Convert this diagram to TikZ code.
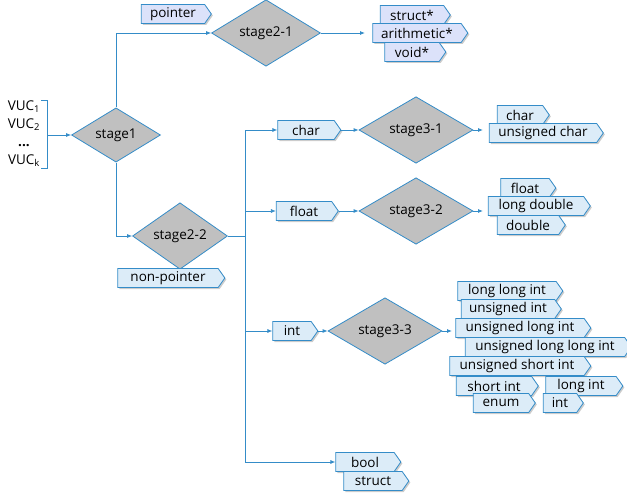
\documentclass[tikz,border=0pt]{standalone}
\usepackage{fontspec}
\setmainfont{Open Sans}
\usetikzlibrary{shapes.geometric,shapes.symbols,arrows.meta,positioning,shadows}
\definecolor{edge}{RGB}{52,140,200}
\definecolor{tagblue}{RGB}{220,236,248}
\definecolor{taglav}{RGB}{220,226,250}
\definecolor{decgray}{RGB}{192,192,192}

\tikzset{
  line/.style={draw=edge, line width=0.8pt},
  arr/.style={line, -{Latex[length=5pt,width=4pt]}},
  decide/.style={diamond, draw=edge, fill=decgray, line width=0.8pt, inner sep=0pt, minimum width=#1, minimum height=43pt},
  tag/.style={signal, signal to=east, signal pointer angle=110, draw=edge, fill=tagblue, line width=0.8pt,
    inner sep=0.5pt, minimum height=19pt, minimum width=#1, drop shadow={shadow xshift=1.5pt, shadow yshift=-1.5pt, opacity=0.4}},
  ptag/.style={tag=#1, fill=taglav}
}

\begin{document}
\begin{tikzpicture}[x=1pt, y=-1pt, every node/.style={font=\fontsize{13.5}{15}\selectfont}]
\useasboundingbox (0,0) rectangle (627,495);

% input and stage 1
\node[align=center, inner sep=0pt, font=\fontsize{13.5}{18}\selectfont] (vuc) at (24,134)
  {VUC\textsubscript{1}\\VUC\textsubscript{2}\\\textbf{...}\\VUC\textsubscript{k}};
\coordinate (brace) at (47,135);
\draw[line] (41,100) -- (47,100) -- (47,168) -- (41,168);
\node[decide=89pt] (stage1) at (116,135) {stage1};
\draw[arr] (brace) -- (stage1.west);

% pointer branch
\node[decide=109pt] (stage21) at (266,33) {stage2-1};
\node[ptag=70pt] (pointer) at (173,14) {pointer};
\coordinate (ptrin) at (365,33);
\node[ptag=70pt] (structp) at (412,15) {struct*};
\node[ptag=95pt] (arithp) at (417,33) {arithmetic*};
\node[ptag=61pt] (voidp) at (412,52) {void*};
\draw[arr] (stage1.north) |- (stage21.west);
\draw[arr] (stage21.east) -- (ptrin);

% non-pointer branch
\node[decide=95pt] (stage22) at (180,236) {stage2-2};
\node[tag=107pt] (nonptr) at (168,278) {non-pointer};
\draw[arr] (stage1.south) |- (stage22.west);
\coordinate (bustop) at (245,130);
\coordinate (busbot) at (245,462);
\draw[line] (stage22.east) -- (bustop |- stage22.east);
\draw[line] (bustop) -- (busbot);

% char
\node[tag=63pt] (charbox) at (306,130) {char};
\node[decide=114pt] (stage31) at (416,130) {stage3-1};
\coordinate (charin) at (483,130);
\node[tag=52pt] (chart) at (520,115) {char};
\node[tag=114pt] (uchar) at (543,133) {unsigned char};
\draw[arr] (bustop) -- (charbox.west);
\draw[arr] (charbox.east) -- (stage31.west);
\draw[arr] (stage31.east) -- (charin);

% float
\node[tag=62pt] (floatbox) at (304,211) {float};
\node[decide=114pt] (stage32) at (416,211) {stage3-2};
\coordinate (floatin) at (483,211);
\node[tag=55pt] (floatt) at (525,188) {float};
\node[tag=102pt] (ldouble) at (536,206) {long double};
\node[tag=68pt] (double) at (528,225) {double};
\draw[arr] (bustop |- floatbox) -- (floatbox.west);
\draw[arr] (floatbox.east) -- (stage32.west);
\draw[arr] (stage32.east) -- (floatin);

% int
\node[tag=45pt] (intbox) at (292,331) {int};
\node[decide=114pt] (stage33) at (385,331) {stage3-3};
\coordinate (intin) at (452,331);
\node[tag=105pt] (llint) at (507,291) {long long int};
\node[tag=100pt] (uint) at (508,309) {unsigned int};
\node[tag=135pt] (ulint) at (520,328) {unsigned long int};
\node[tag=166pt] (ullint) at (545,347) {unsigned long long int};
\node[tag=141pt] (usint) at (517,366) {unsigned short int};
\node[tag=82pt] (sint) at (494,386) {short int};
\node[tag=62pt] (enum) at (501,403) {enum};
\node[tag=77pt] (lint) at (581,386) {long int};
\node[tag=40pt] (intt) at (560,403) {int};
\draw[arr] (bustop |- intbox) -- (intbox.west);
\draw[arr] (intbox.east) -- (stage33.west);
\draw[arr] (stage33.east) -- (intin);

% bool / struct
\node[tag=65pt] (bool) at (365,462) {bool};
\node[tag=65pt] (struct) at (373,481) {struct};
\draw[arr] (busbot) -- (bool.west);
\end{tikzpicture}
\end{document}
